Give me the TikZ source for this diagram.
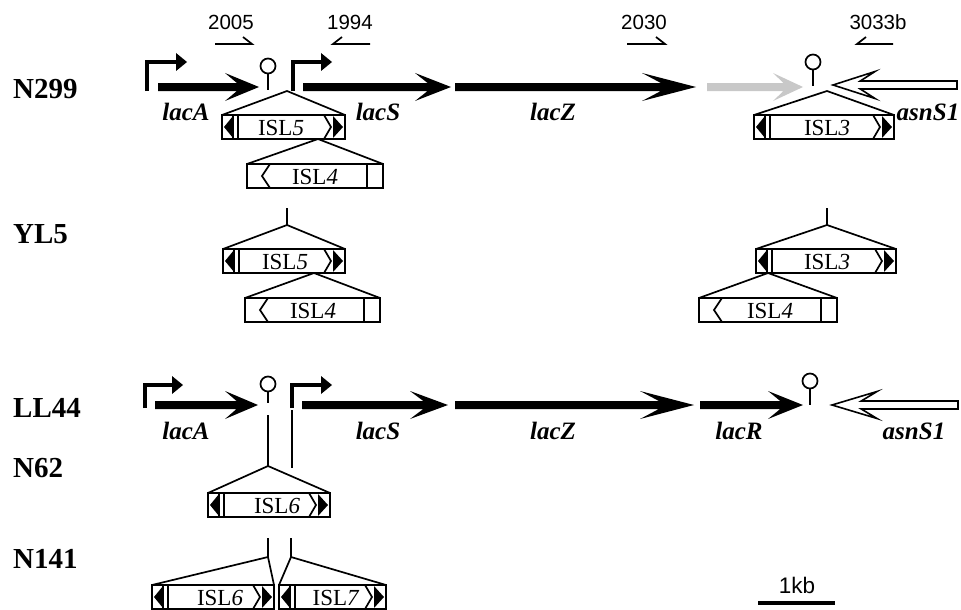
\documentclass[tikz,border=0pt]{standalone}
\usepackage{fontspec}
\setmainfont{Liberation Serif}
\newfontfamily\labelsans{Liberation Sans}

\definecolor{fadedgene}{RGB}{200,200,200}

\tikzset{
  strain/.style={anchor=base west, inner sep=0pt, font=\fontsize{29}{30}\selectfont\bfseries},
  gene/.style={anchor=base, inner sep=0pt, font=\fontsize{25}{26}\selectfont\bfseries\itshape},
  islabel/.style={inner sep=0pt, font=\fontsize{23}{24}\selectfont},
  poslabel/.style={anchor=base, inner sep=0pt, font=\labelsans\fontsize{20.5}{22}\selectfont},
  thinline/.style={line width=1.7pt},
  promo/.style={line width=3.4pt},
}

% solid gene arrow pointing right: fill, start x, head corner x, tip x, centre y
\newcommand{\geneR}[5]{%
  \fill[#1] (#2,#5-4) -- ({#3+0.35*(#4-#3)},#5-4) -- (#3,#5-14) -- (#4,#5)
    -- (#3,#5+14) -- ({#3+0.35*(#4-#3)},#5+4) -- (#2,#5+4) -- cycle;}
% open gene arrow pointing left: tip x, head corner x, end x, centre y
\newcommand{\geneL}[4]{%
  \draw[line width=1.6pt, fill=white, line join=miter] (#3,#4-4) -- ({#2-0.35*(#2-#1)},#4-4)
    -- (#2,#4-13.5) -- (#1,#4) -- (#2,#4+13.5) -- ({#2-0.35*(#2-#1)},#4+4) -- (#3,#4+4) -- cycle;}
% promoter: x, bottom y, top y, elbow end x
\newcommand{\promoter}[4]{%
  \draw[promo] (#1,#2) -- (#1,#3) -- (#4,#3);
  \fill (#4,#3-9) -- (#4+11,#3) -- (#4,#3+9) -- cycle;}
% terminator: x, circle centre y, stem bottom y
\newcommand{\term}[3]{%
  \draw[thinline] (#1,#2) circle[radius=7.5pt];
  \draw[thinline] (#1,#2+7.5) -- (#1,#3);}
% IS element with inverted repeats: name, left x, right x, top y, text x, label
\newcommand{\isIR}[6]{%
  \fill (#2+2,#4+12) -- (#2+11,#4+1) -- (#2+11,#4+23) -- cycle;
  \fill (#3-2,#4+12) -- (#3-12,#4+1) -- (#3-12,#4+23) -- cycle;
  \draw[thinline] (#2,#4) rectangle (#3,#4+24);
  \draw[thinline] (#2+11,#4) -- (#2+11,#4+24) (#2+16,#4) -- (#2+16,#4+24);
  \draw[thinline] (#3-21,#4) -- (#3-14,#4+12) -- (#3-21,#4+24);
  \node[islabel] (#1) at (#5,#4+12.5) {#6};}
% ISL4-type element: name, left x, right x, top y, text x
\newcommand{\isFour}[5]{%
  \draw[thinline] (#2,#4) rectangle (#3,#4+24);
  \draw[thinline] (#2+23,#4) -- (#2+15,#4+12) -- (#2+23,#4+24);
  \draw[thinline] (#3-16,#4) -- (#3-16,#4+24);
  \node[islabel] (#1) at (#5,#4+12.5) {ISL\textit{4}};}

\begin{document}
\begin{tikzpicture}[x=1pt,y=-1pt]
\useasboundingbox (0,0) rectangle (961,610);

% ---- primer positions ----
\node[poslabel] (p2005) at (231,30) {2005};
\node[poslabel] (p1994) at (350,30) {1994};
\node[poslabel] (p2030) at (644,30) {2030};
\node[poslabel] (p3033) at (878,30) {3033b};
\draw[thinline] (215,44) -- (252,44) -- (243,37);
\draw[thinline] (370,44) -- (333,44) -- (342,37);
\draw[thinline] (627,44) -- (665,44) -- (656,37);
\draw[thinline] (893,44) -- (857,44) -- (866,37);

% ---- strain labels ----
\node[strain] (sN299) at (13,99) {N299};
\node[strain] (sYL5) at (13,243) {YL5};
\node[strain] (sLL44) at (13,417) {LL44};
\node[strain] (sN62) at (13,477) {N62};
\node[strain] (sN141) at (13,568) {N141};

% ---- N299 ----
\promoter{147}{91}{62}{176}
\geneR{black}{158}{225}{259}{87}
\term{268}{66}{90}
\promoter{293}{91}{62}{321}
\geneR{black}{303}{415}{451}{87}
\geneR{black}{455}{642}{696}{87}
\geneR{fadedgene}{707}{773}{803}{87}
\term{813}{62}{86}
\geneL{833}{875}{957}{85}
\node[gene] (gA1) at (186,120) {lacA};
\node[gene] (gS1) at (378,120) {lacS};
\node[gene] (gZ1) at (553,120) {lacZ};
\node[gene] (gN1) at (928,120) {asnS1};

\coordinate (i5a) at (287,91);
\draw[thinline] (222,115) -- (i5a) -- (345,115);
\isIR{isl5a}{222}{345}{115}{281}{ISL\textit{5}}
\coordinate (i4a) at (318,139);
\draw[thinline] (247,164) -- (i4a) -- (383,164);
\isFour{isl4a}{247}{383}{164}{315}
\coordinate (i3a) at (827,91);
\draw[thinline] (754,115) -- (i3a) -- (894,115);
\isIR{isl3a}{754}{894}{115}{827}{ISL\textit{3}}

% ---- YL5 ----
\coordinate (s5b) at (287,208);
\coordinate (i5b) at (287,225);
\draw[thinline] (s5b) -- (i5b);
\draw[thinline] (223,249) -- (i5b) -- (345,249);
\isIR{isl5b}{223}{345}{249}{285}{ISL\textit{5}}
\coordinate (i4b) at (314,273);
\draw[thinline] (245,298) -- (i4b) -- (380,298);
\isFour{isl4b}{245}{380}{298}{313}
\coordinate (s3b) at (827,208);
\coordinate (i3b) at (827,225);
\draw[thinline] (s3b) -- (i3b);
\draw[thinline] (756,249) -- (i3b) -- (896,249);
\isIR{isl3b}{756}{896}{249}{827}{ISL\textit{3}}
\coordinate (i4c) at (768,273);
\draw[thinline] (699,298) -- (i4c) -- (837,298);
\isFour{isl4c}{699}{837}{298}{770}

% ---- LL44 ----
\promoter{145}{408}{385}{172}
\geneR{black}{155}{225}{258}{405}
\term{268}{384}{403}
\promoter{292}{408}{385}{321}
\geneR{black}{302}{410}{448}{405}
\geneR{black}{455}{640}{694}{405}
\geneR{black}{700}{768}{803}{405}
\term{810}{381}{405}
\geneL{832}{877}{958}{405}
\node[gene] (gA2) at (186,439) {lacA};
\node[gene] (gS2) at (378,439) {lacS};
\node[gene] (gZ2) at (553,439) {lacZ};
\node[gene] (gR2) at (739,439) {lacR};
\node[gene] (gN2) at (914,439) {asnS1};

% ---- N62 ----
\coordinate (c62l) at (268,415);
\coordinate (i6a) at (268,466);
\coordinate (c62r) at (292,410);
\coordinate (e62r) at (292,468);
\draw[thinline] (c62l) -- (i6a);
\draw[thinline] (c62r) -- (e62r);
\draw[thinline] (208,493) -- (i6a) -- (330,493);
\isIR{isl6a}{208}{330}{493}{277}{ISL\textit{6}}

% ---- N141 ----
\coordinate (c141l) at (268,538);
\coordinate (i6b) at (268,557);
\coordinate (c141r) at (291,538);
\coordinate (i7b) at (291,557);
\draw[thinline] (c141l) -- (i6b);
\draw[thinline] (c141r) -- (i7b);
\draw[thinline] (152,585) -- (i6b) -- (274,585);
\draw[thinline] (279,585) -- (i7b) -- (386,585);
\isIR{isl6b}{152}{274}{585}{220}{ISL\textit{6}}
\isIR{isl7b}{279}{386}{585}{336}{ISL\textit{7}}

% ---- scale bar ----
\coordinate (sbl) at (758,603);
\coordinate (sbr) at (835,603);
\draw[line width=4pt] (sbl) -- (sbr);
\node[poslabel, font=\labelsans\fontsize{22.5}{24}\selectfont] (kb) at (797,593) {1kb};
\end{tikzpicture}
\end{document}
